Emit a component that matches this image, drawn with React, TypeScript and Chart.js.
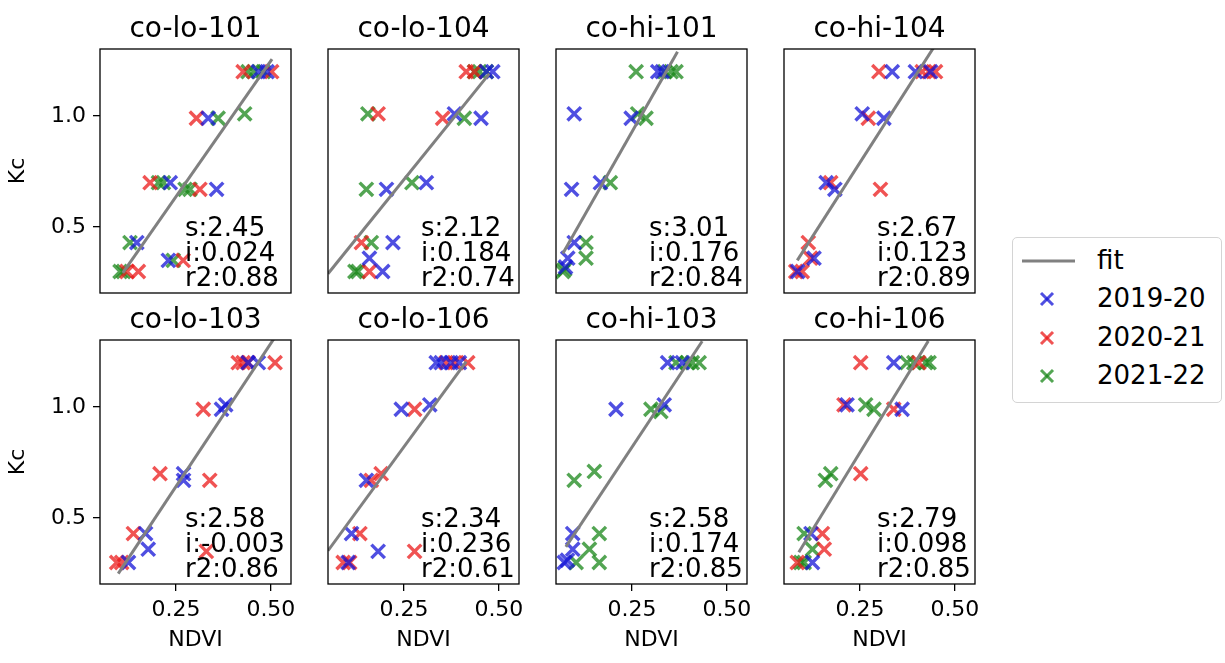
import React, { useEffect, useRef } from "react";
import { Chart, registerables } from "chart.js";

Chart.register(...registerables);

const PANEL_TITLES = ["co-lo-101", "co-lo-104", "co-hi-101", "co-hi-104", "co-lo-103", "co-lo-106", "co-hi-103", "co-hi-106"];
const SLOPES = [2.45, 2.12, 3.01, 2.67, 2.58, 2.34, 2.58, 2.79];
const INTERCEPTS = [0.024, 0.184, 0.176, 0.123, -0.003, 0.236, 0.174, 0.098];
const SLOPE_LABELS = ["2.45", "2.12", "3.01", "2.67", "2.58", "2.34", "2.58", "2.79"];
const INTERCEPT_LABELS = ["0.024", "0.184", "0.176", "0.123", "-0.003", "0.236", "0.174", "0.098"];
const R2_LABELS = ["0.88", "0.74", "0.84", "0.89", "0.86", "0.61", "0.85", "0.85"];
const FIT_X_RANGES: number[][] = [
  [0.11, 0.503], [0.05, 0.475], [0.068, 0.37], [0.085, 0.45],
  [0.098, 0.51], [0.05, 0.414], [0.076, 0.435], [0.089, 0.43],
];

const X_TICKS = [0.25, 0.5];
const Y_TICKS = [0.5, 1.0];
const SERIES_NAMES = ["2019-20", "2020-21", "2021-22"];

// 2019-20 (blue), per panel: [NDVI, Kc]
const S2019_20: number[][][] = [
  [[0.467, 1.2], [0.49, 1.2], [0.335, 0.99], [0.235, 0.7], [0.357, 0.67], [0.147, 0.43], [0.23, 0.35]],
  [[0.484, 1.2], [0.467, 1.2], [0.383, 1.01], [0.453, 0.99], [0.309, 0.7], [0.204, 0.67], [0.221, 0.43], [0.159, 0.36], [0.194, 0.3]],
  [[0.318, 1.2], [0.33, 1.2], [0.098, 1.01], [0.248, 0.99], [0.167, 0.7], [0.091, 0.67], [0.098, 0.43], [0.081, 0.36], [0.075, 0.32]],
  [[0.335, 1.2], [0.396, 1.2], [0.436, 1.2], [0.256, 1.01], [0.313, 0.99], [0.161, 0.7], [0.184, 0.67], [0.129, 0.36], [0.086, 0.3]],
  [[0.44, 1.2], [0.467, 1.2], [0.37, 0.99], [0.381, 1.01], [0.27, 0.7], [0.27, 0.67], [0.17, 0.43], [0.177, 0.36], [0.125, 0.3]],
  [[0.335, 1.2], [0.348, 1.2], [0.374, 1.2], [0.396, 1.2], [0.243, 0.99], [0.318, 1.01], [0.151, 0.67], [0.112, 0.43], [0.182, 0.35], [0.103, 0.3]],
  [[0.344, 1.2], [0.383, 1.2], [0.208, 0.99], [0.335, 1.01], [0.094, 0.43], [0.094, 0.36], [0.072, 0.3], [0.08, 0.31]],
  [[0.339, 1.2], [0.216, 1.01], [0.361, 0.99], [0.121, 0.43], [0.125, 0.3]],
];

// 2020-21 (red)
const S2020_21: number[][][] = [
  [[0.427, 1.2], [0.502, 1.2], [0.304, 0.99], [0.182, 0.7], [0.313, 0.67], [0.269, 0.35], [0.121, 0.3], [0.151, 0.3]],
  [[0.414, 1.2], [0.436, 1.2], [0.182, 1.01], [0.352, 0.99], [0.138, 0.43], [0.159, 0.3]],
  [],
  [[0.3, 1.2], [0.414, 1.2], [0.432, 1.2], [0.449, 1.2], [0.272, 0.99], [0.173, 0.7], [0.304, 0.67], [0.114, 0.43], [0.12, 0.36], [0.081, 0.3], [0.098, 0.3]],
  [[0.414, 1.2], [0.427, 1.2], [0.44, 1.2], [0.511, 1.2], [0.322, 0.99], [0.208, 0.7], [0.339, 0.67], [0.138, 0.43], [0.33, 0.35], [0.094, 0.3], [0.107, 0.3]],
  [[0.361, 1.2], [0.383, 1.2], [0.418, 1.2], [0.278, 0.99], [0.19, 0.7], [0.164, 0.67], [0.134, 0.43], [0.278, 0.35], [0.09, 0.3], [0.107, 0.3]],
  [],
  [[0.252, 1.2], [0.405, 1.2], [0.208, 1.01], [0.339, 0.99], [0.252, 0.7], [0.151, 0.43], [0.156, 0.36], [0.085, 0.3]],
];

// 2021-22 (green)
const S2021_22: number[][][] = [
  [[0.44, 1.2], [0.455, 1.2], [0.48, 1.2], [0.361, 0.99], [0.431, 1.01], [0.204, 0.7], [0.217, 0.7], [0.274, 0.67], [0.287, 0.67], [0.129, 0.43], [0.243, 0.35], [0.103, 0.3], [0.112, 0.3]],
  [[0.436, 1.2], [0.449, 1.2], [0.467, 1.2], [0.155, 1.01], [0.409, 0.99], [0.271, 0.7], [0.151, 0.67], [0.164, 0.43], [0.121, 0.3], [0.129, 0.3]],
  [[0.261, 1.2], [0.336, 1.2], [0.353, 1.2], [0.366, 1.2], [0.265, 1.01], [0.287, 0.99], [0.193, 0.7], [0.129, 0.43], [0.129, 0.36], [0.068, 0.3], [0.073, 0.31]],
  [],
  [],
  [],
  [[0.366, 1.2], [0.396, 1.2], [0.409, 1.2], [0.427, 1.2], [0.3, 0.99], [0.326, 0.98], [0.151, 0.71], [0.098, 0.67], [0.164, 0.43], [0.138, 0.36], [0.103, 0.3], [0.164, 0.3]],
  [[0.374, 1.2], [0.392, 1.2], [0.423, 1.2], [0.432, 1.2], [0.265, 1.01], [0.287, 0.99], [0.173, 0.7], [0.159, 0.67], [0.103, 0.43], [0.125, 0.36], [0.094, 0.3], [0.103, 0.3]],
];

const SERIES = [S2019_20, S2020_21, S2021_22];
const SERIES_COLORS = ["rgba(20,20,215,0.75)", "rgba(235,25,25,0.75)", "rgba(25,135,25,0.75)"];
const FIT_COLOR = "#808080";

const X_MIN = 0.05, X_MAX = 0.553, Y_MIN = 0.203, Y_MAX = 1.302;
const FONT = "'DejaVu Sans', sans-serif";

const PLOT_W = 191, PLOT_H = 244;
const PAD_L = 100, PAD_T = 49, PAD_R = 20, PAD_B = 80;

function Panel({ idx }: { idx: number }) {
  const ref = useRef<HTMLCanvasElement>(null);
  const row = Math.floor(idx / 4), col = idx % 4;
  const L = 100 + col * 228, T = 49 + row * 291;

  useEffect(() => {
    if (!ref.current) return;
    const fx = FIT_X_RANGES[idx];
    const fitData = fx.map((x) => ({ x, y: INTERCEPTS[idx] + SLOPES[idx] * x }));
    const datasets: any[] = [
      {
        type: "line",
        label: "fit",
        data: fitData,
        borderColor: FIT_COLOR,
        borderWidth: 3,
        pointRadius: 0,
        fill: false,
        showLine: true,
      },
    ];
    SERIES.forEach((s, si) => {
      datasets.push({
        type: "scatter",
        label: SERIES_NAMES[si],
        data: s[idx].map(([x, y]) => ({ x, y })),
        pointStyle: "crossRot",
        pointRadius: 9.5,
        borderColor: SERIES_COLORS[si],
        backgroundColor: SERIES_COLORS[si],
        borderWidth: 3.4,
      });
    });

    const deco = {
      id: "deco",
      afterDraw(chart: any) {
        const { ctx, chartArea: a } = chart;
        ctx.save();
        ctx.strokeStyle = "#000";
        ctx.lineWidth = 1.3;
        ctx.strokeRect(a.left, a.top, a.right - a.left, a.bottom - a.top);
        ctx.fillStyle = "#000";
        ctx.font = `28px ${FONT}`;
        ctx.textAlign = "center";
        ctx.textBaseline = "alphabetic";
        ctx.fillText(PANEL_TITLES[idx], (a.left + a.right) / 2, a.top - 12);
        ctx.font = `26px ${FONT}`;
        ctx.textAlign = "left";
        const tx = a.left + (col === 0 ? 85 : 93);
        ctx.fillText(`s:${SLOPE_LABELS[idx]}`, tx, a.top + 187);
        ctx.fillText(`i:${INTERCEPT_LABELS[idx]}`, tx, a.top + 212);
        ctx.fillText(`r2:${R2_LABELS[idx]}`, tx, a.top + 237);
        ctx.font = `22px ${FONT}`;
        if (col === 0) {
          ctx.save();
          ctx.translate(a.left - 82, (a.top + a.bottom) / 2);
          ctx.rotate(-Math.PI / 2);
          ctx.textAlign = "center";
          ctx.textBaseline = "middle";
          ctx.fillText("Kc", 0, 0);
          ctx.restore();
        }
        if (row === 1) {
          ctx.textAlign = "center";
          ctx.textBaseline = "middle";
          ctx.fillText("NDVI", (a.left + a.right) / 2, a.bottom + 56);
        }
        ctx.restore();
      },
    };

    const gridOpts = {
      display: true,
      drawOnChartArea: false,
      drawTicks: true,
      tickLength: 7,
      color: "#000",
      lineWidth: 1.3,
    };

    const showX = row === 1;
    const showY = col === 0;

    const chart = new Chart(ref.current, {
      type: "scatter",
      data: { datasets },
      options: {
        animation: false,
        responsive: false,
        events: [],
        layout: {
          padding: { left: showY ? 0 : PAD_L, right: PAD_R, top: PAD_T, bottom: showX ? 0 : PAD_B },
        },
        plugins: { legend: { display: false }, tooltip: { enabled: false }, title: { display: false } },
        scales: {
          x: {
            type: "linear",
            min: X_MIN,
            max: X_MAX,
            display: showX,
            afterBuildTicks: (s: any) => {
              s.ticks = X_TICKS.map((v) => ({ value: v }));
            },
            afterFit: (s: any) => {
              if (showX) s.height = PAD_B;
            },
            ticks: {
              color: "#000",
              font: { family: FONT, size: 22 },
              padding: 6,
              maxRotation: 0,
              autoSkip: false,
              callback: (v: any) => Number(v).toFixed(2),
            },
            grid: gridOpts,
            border: { display: false },
          },
          y: {
            type: "linear",
            min: Y_MIN,
            max: Y_MAX,
            display: showY,
            afterBuildTicks: (s: any) => {
              s.ticks = Y_TICKS.map((v) => ({ value: v }));
            },
            afterFit: (s: any) => {
              if (showY) s.width = PAD_L;
            },
            ticks: {
              color: "#000",
              font: { family: FONT, size: 22 },
              padding: 7,
              autoSkip: false,
              callback: (v: any) => Number(v).toFixed(1),
            },
            grid: gridOpts,
            border: { display: false },
          },
        },
      } as any,
      plugins: [deco],
    });
    return () => chart.destroy();
  }, [idx]);

  const W = PLOT_W + PAD_L + PAD_R;
  const H = PLOT_H + PAD_T + PAD_B;
  return (
    <canvas
      ref={ref}
      width={W}
      height={H}
      style={{ position: "absolute", left: L - PAD_L, top: T - PAD_T, width: W, height: H }}
    />
  );
}

function Legend() {
  const rows = [62, 101, 139];
  return (
    <div
      style={{
        position: "absolute",
        left: 1012,
        top: 237,
        width: 210,
        height: 166,
        border: "1.5px solid #d4d4d4",
        borderRadius: 5,
        boxSizing: "border-box",
        fontFamily: FONT,
        fontSize: 26,
        color: "#000",
        background: "rgba(255,255,255,0.8)",
      }}
    >
      <svg width={210} height={166} style={{ position: "absolute", left: -1.5, top: -1.5 }}>
        <line x1={10} y1={24} x2={63} y2={24} stroke={FIT_COLOR} strokeWidth={3} />
        {rows.map((y, i) => (
          <g key={i} stroke={SERIES_COLORS[i]} strokeWidth={3}>
            <line x1={29} y1={y - 6} x2={41} y2={y + 6} />
            <line x1={29} y1={y + 6} x2={41} y2={y - 6} />
          </g>
        ))}
      </svg>
      <span style={{ position: "absolute", left: 84, top: 24 - 17, lineHeight: "30px" }}>fit</span>
      {rows.map((y, i) => (
        <span key={i} style={{ position: "absolute", left: 84, top: y - 17, lineHeight: "30px" }}>
          {SERIES_NAMES[i]}
        </span>
      ))}
    </div>
  );
}

export default function App() {
  return (
    <div style={{ position: "fixed", left: 0, top: 0, width: 1225, height: 663, background: "#fff", overflow: "hidden" }}>
      {PANEL_TITLES.map((_, i) => (
        <Panel key={i} idx={i} />
      ))}
      <Legend />
    </div>
  );
}
